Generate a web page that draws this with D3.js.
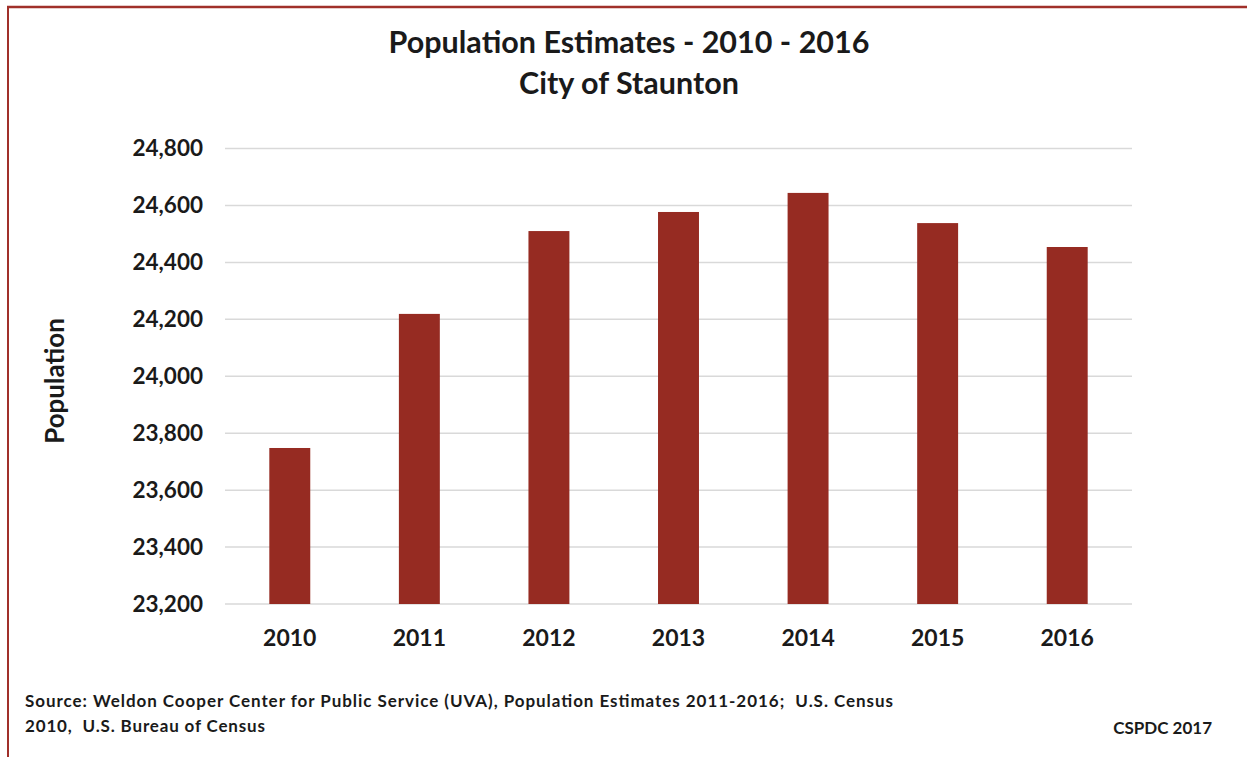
<!DOCTYPE html>
<html>
<head>
<meta charset="utf-8">
<script src="https://cdn.jsdelivr.net/npm/d3@7"></script>
<style>
  html, body { margin: 0; padding: 0; background: #fff; }
  svg { display: block; }
  text { font-family: Lato, "Open Sans", sans-serif; font-weight: bold; fill: #1a1a1a; white-space: pre; }
</style>
</head>
<body>
<script>
const years = ["2010", "2011", "2012", "2013", "2014", "2015", "2016"];
const population = [23748, 24219, 24510, 24577, 24644, 24538, 24454];
const yTicks = [23200, 23400, 23600, 23800, 24000, 24200, 24400, 24600, 24800];
const titleLines = ["Population Estimates - 2010 - 2016", "City of Staunton"];
const yAxisTitle = "Population";
const sourceLines = ["Source: Weldon Cooper Center for Public Service (UVA), Population Estimates 2011-2016;  U.S. Census",
                     "2010,  U.S. Bureau of Census"];
const sourceWidths = [868, 240];
const credit = "CSPDC 2017";

const W = 1247, H = 757;
const svg = d3.select("body").append("svg").attr("width", W).attr("height", H);

// frame
svg.append("line").attr("x1", 7).attr("x2", W).attr("y1", 7).attr("y2", 7)
  .attr("stroke", "#a0302a").attr("stroke-width", 2.5);
svg.append("line").attr("x1", 8).attr("x2", 8).attr("y1", 6).attr("y2", H)
  .attr("stroke", "#a0302a").attr("stroke-width", 2);

const plot = { left: 225, right: 1132, top: 148.5, bottom: 604 };

const x = d3.scaleBand().domain(years).range([plot.left, plot.right]).paddingInner(0.684).paddingOuter(0.342);
const y = d3.scaleLinear().domain([23200, 24800]).range([plot.bottom, plot.top]);

// gridlines
svg.append("g").selectAll("line").data(yTicks).join("line")
  .attr("x1", plot.left).attr("x2", plot.right)
  .attr("y1", d => y(d)).attr("y2", d => y(d))
  .attr("stroke", "#d9d9d9").attr("stroke-width", 1.5);

// bars
svg.append("g").selectAll("rect").data(years).join("rect")
  .attr("x", d => x(d)).attr("width", x.bandwidth())
  .attr("y", (d, i) => y(population[i]))
  .attr("height", (d, i) => y(23200) - y(population[i]))
  .attr("fill", "#962b22");

// y axis
const yAxis = d3.axisLeft(y).tickValues(yTicks).tickFormat(d3.format(",")).tickSize(0).tickPadding(0);
const gy = svg.append("g").attr("transform", `translate(${plot.left - 22},0)`).call(yAxis);
gy.select(".domain").remove();
gy.selectAll("text").attr("font-size", 22.5).attr("fill", "#1a1a1a").attr("font-family", "Lato").attr("font-weight", "bold");

// x axis
const xAxis = d3.axisBottom(x).tickSize(0).tickPadding(0);
const gx = svg.append("g").attr("transform", `translate(0,${plot.bottom + 26})`).call(xAxis);
gx.select(".domain").remove();
gx.selectAll("text").attr("font-size", 23).attr("fill", "#1a1a1a").attr("font-family", "Lato").attr("font-weight", "bold");

// titles
svg.selectAll("text.title").data(titleLines).join("text").attr("class", "title")
  .attr("x", 629).attr("y", (d, i) => 53 + i * 41)
  .attr("text-anchor", "middle").attr("font-size", 30.5).text(d => d);

svg.append("text").attr("transform", "translate(64,381) rotate(-90)")
  .attr("text-anchor", "middle").attr("font-size", 26).text(yAxisTitle);

svg.selectAll("text.src").data(sourceLines).join("text").attr("class", "src")
  .attr("x", 25).attr("y", (d, i) => 707 + i * 25)
  .attr("font-size", 17).text(d => d)
  .attr("textLength", (d, i) => sourceWidths[i]).attr("lengthAdjust", "spacing");

svg.append("text").attr("x", 1212).attr("y", 734).attr("text-anchor", "end")
  .attr("font-size", 17).text(credit);
</script>
</body>
</html>
